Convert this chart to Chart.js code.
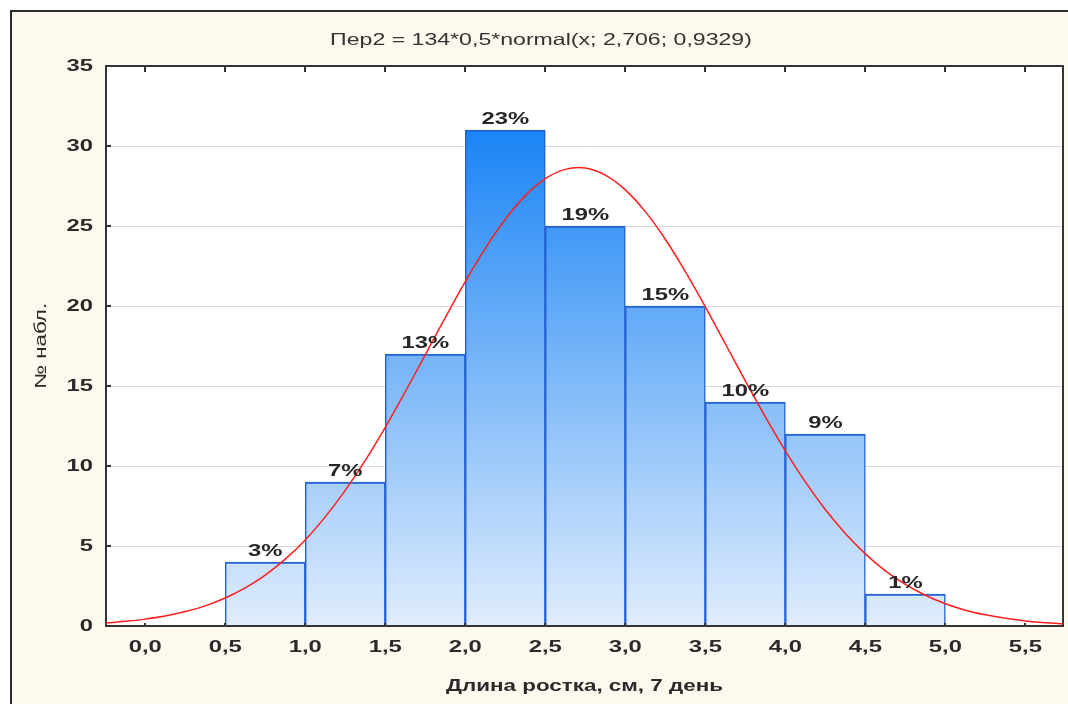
<!DOCTYPE html>
<html>
<head>
<meta charset="utf-8">
<script src="https://cdn.jsdelivr.net/npm/chart.js@4/dist/chart.umd.min.js"></script>
<style>
  html, body { margin: 0; padding: 0; background: #ffffff; }
  canvas { display: block; }
</style>
</head>
<body>
<canvas id="hist" width="1068" height="704"></canvas>
<script>
// Histogram bins (class width 0.5 cm): bin centres and observation counts
const binCenters = [0.75, 1.25, 1.75, 2.25, 2.75, 3.25, 3.75, 4.25, 4.75];
const binCounts  = [4, 9, 17, 31, 25, 20, 14, 12, 2];
const totalCount = 134;

// Fitted normal curve, sampled every 0.125 cm
const curveX = [-0.25, -0.125, 0, 0.125, 0.25, 0.375, 0.5, 0.625, 0.75, 0.875, 1, 1.125,
                1.25, 1.375, 1.5, 1.625, 1.75, 1.875, 2, 2.125, 2.25, 2.375, 2.5, 2.625,
                2.75, 2.875, 3, 3.125, 3.25, 3.375, 3.5, 3.625, 3.75, 3.875, 4, 4.125,
                4.25, 4.375, 4.5, 4.625, 4.75, 4.875, 5, 5.125, 5.25, 5.375, 5.5, 5.625, 5.75];
const curveY = [0.19, 0.29, 0.43, 0.62, 0.90, 1.26, 1.75, 2.38, 3.18, 4.18, 5.38, 6.82,
                8.48, 10.35, 12.42, 14.64, 16.95, 19.27, 21.52, 23.60, 25.42, 26.90, 27.96, 28.54,
                28.62, 28.18, 27.26, 25.90, 24.17, 22.15, 19.95, 17.64, 15.32, 13.07, 10.95, 9.01,
                7.28, 5.78, 4.51, 3.45, 2.60, 1.92, 1.39, 0.99, 0.70, 0.48, 0.32, 0.21, 0.14];

// Axis ticks and labels
const xTickValues = [0, 0.5, 1, 1.5, 2, 2.5, 3, 3.5, 4, 4.5, 5, 5.5];
const xTickLabels = ['0,0', '0,5', '1,0', '1,5', '2,0', '2,5', '3,0', '3,5', '4,0', '4,5', '5,0', '5,5'];
const yTickValues = [0, 5, 10, 15, 20, 25, 30, 35];
const yTickLabels = ['0', '5', '10', '15', '20', '25', '30', '35'];

const chartTitle = 'Пер2 = 134*0,5*normal(x; 2,706; 0,9329)';
const xTitle = 'Длина ростка, см, 7 день';
const yTitle = '№ набл.';

const FONT = "'Liberation Sans', Arial, sans-serif";
const TEXT_COLOR = '#2a2a2a';
const TEXT_STRETCH = 1.4;   // wide lettering of the original window
const PANEL = '#fdf9ef';

// Wide text: every label is drawn horizontally stretched around its anchor
const wideText = {
  id: 'wideText',
  beforeInit(chart) {
    const ctx = chart.ctx;
    const base = ctx.fillText;
    ctx.fillText = function (text, x, y, maxWidth) {
      this.save();
      this.translate(x, y);
      this.scale(TEXT_STRETCH, 1);
      if (maxWidth === undefined) base.call(this, text, 0, 0);
      else base.call(this, text, 0, 0, maxWidth / TEXT_STRETCH);
      this.restore();
    };
  }
};

// Window panel, outer frame and white plot area
const panel = {
  id: 'panel',
  beforeDraw(chart) {
    const { ctx, width, height, chartArea: a } = chart;
    ctx.save();
    ctx.fillStyle = '#ffffff';
    ctx.fillRect(0, 0, width, height);
    ctx.fillStyle = PANEL;
    ctx.fillRect(11, 11, width - 11, height - 11);
    ctx.strokeStyle = '#2b2b2b';
    ctx.lineWidth = 2;
    ctx.beginPath();
    ctx.moveTo(11, height);
    ctx.lineTo(11, 11);
    ctx.lineTo(width, 11);
    ctx.stroke();
    ctx.fillStyle = '#ffffff';
    ctx.fillRect(a.left, a.top, a.right - a.left, a.bottom - a.top);
    ctx.restore();
  },
  afterDraw(chart) {
    const { ctx } = chart;
    ctx.save();
    ctx.font = '16.5px ' + FONT;
    ctx.fillStyle = '#333333';
    ctx.textAlign = 'center';
    ctx.textBaseline = 'middle';
    ctx.fillText(chartTitle, 541, 40);
    ctx.restore();
  }
};

// Plot frame with inward tick marks, drawn over the bars and under the curve
const plotFrame = {
  id: 'plotFrame',
  afterDatasetDraw(chart, args) {
    if (args.meta.type !== 'bar') return;
    const { ctx, chartArea: a, scales: { x, y } } = chart;
    ctx.save();
    ctx.strokeStyle = '#353535';
    ctx.lineWidth = 2;
    ctx.strokeRect(a.left, a.top, a.right - a.left, a.bottom - a.top);
    ctx.beginPath();
    x.ticks.forEach(t => {
      const px = Math.round(x.getPixelForValue(t.value));
      ctx.moveTo(px, a.top);
      ctx.lineTo(px, a.top + 6);
      ctx.moveTo(px, a.bottom);
      ctx.lineTo(px, a.bottom - 3);
    });
    y.ticks.forEach(t => {
      const py = Math.round(y.getPixelForValue(t.value));
      ctx.moveTo(a.left, py);
      ctx.lineTo(a.left + 5, py);
    });
    ctx.stroke();
    ctx.restore();
  }
};

// Share of observations above each bar
const barPercents = {
  id: 'barPercents',
  afterDatasetsDraw(chart) {
    const { ctx } = chart;
    const meta = chart.getDatasetMeta(1);
    ctx.save();
    ctx.font = 'bold 17px ' + FONT;
    ctx.fillStyle = '#262626';
    ctx.textAlign = 'center';
    ctx.textBaseline = 'alphabetic';
    meta.data.forEach((bar, i) => {
      const pct = Math.round(binCounts[i] * 100 / totalCount) + '%';
      ctx.fillText(pct, bar.x, bar.y - 6);
    });
    ctx.restore();
  }
};

// Vertical blue gradient for the bars, darkest at the tallest bar
function barFill(c) {
  const chart = c.chart;
  if (!chart.chartArea) return '#7ab6f6';
  const ys = chart.scales.y;
  const g = chart.ctx.createLinearGradient(0, ys.getPixelForValue(0), 0, ys.getPixelForValue(Math.max(...binCounts)));
  g.addColorStop(0, '#e0edfc');
  g.addColorStop(1, '#1a84f5');
  return g;
}

const tickFont = { family: FONT, size: 17, weight: 'bold', lineHeight: 1.2 };

new Chart(document.getElementById('hist'), {
  type: 'bar',
  data: {
    datasets: [
      {
        type: 'line',
        data: curveX.map((x, i) => ({ x, y: curveY[i] })),
        borderColor: '#ff1e1e',
        borderWidth: 1.5,
        pointRadius: 0,
        tension: 0.4,
        fill: false,
        order: 0
      },
      {
        type: 'bar',
        data: binCenters.map((x, i) => ({ x, y: binCounts[i] })),
        backgroundColor: barFill,
        borderColor: '#2462d3',
        borderWidth: { top: 2, left: 1.5, right: 1.5, bottom: 0 },
        barPercentage: 1,
        categoryPercentage: 1,
        order: 1
      }
    ]
  },
  options: {
    responsive: false,
    animation: false,
    devicePixelRatio: 1,
    layout: { padding: { top: 66, right: 5, left: 0, bottom: 0 } },
    plugins: {
      legend: { display: false },
      tooltip: { enabled: false },
      title: { display: false }
    },
    scales: {
      x: {
        type: 'linear',
        min: -0.245,
        max: 5.735,
        offset: false,
        afterBuildTicks: s => { s.ticks = xTickValues.map(v => ({ value: v })); },
        afterFit: s => { s.height = 78; },
        grid: { display: false, drawTicks: false, offset: false },
        border: { display: false },
        ticks: {
          autoSkip: false,
          maxRotation: 0,
          padding: 11,
          color: TEXT_COLOR,
          font: tickFont,
          callback: (v, i) => xTickLabels[i]
        },
        title: {
          display: true,
          text: xTitle,
          color: TEXT_COLOR,
          font: { family: FONT, size: 16, weight: 'bold', lineHeight: 1.2 },
          padding: { top: 0, bottom: 8 }
        }
      },
      y: {
        min: 0,
        max: 35,
        afterBuildTicks: s => { s.ticks = yTickValues.map(v => ({ value: v })); },
        afterFit: s => { s.width = 106; },
        grid: { color: '#d9d9d9', lineWidth: 1, drawTicks: false },
        border: { display: false },
        ticks: {
          padding: 13,
          color: TEXT_COLOR,
          font: tickFont,
          callback: (v, i) => yTickLabels[i]
        },
        title: {
          display: true,
          text: yTitle,
          color: TEXT_COLOR,
          font: { family: FONT, size: 16, weight: 'normal', lineHeight: 1.2 },
          padding: { top: 32, bottom: 0 }
        }
      }
    }
  },
  plugins: [wideText, panel, plotFrame, barPercents]
});
</script>
</body>
</html>
